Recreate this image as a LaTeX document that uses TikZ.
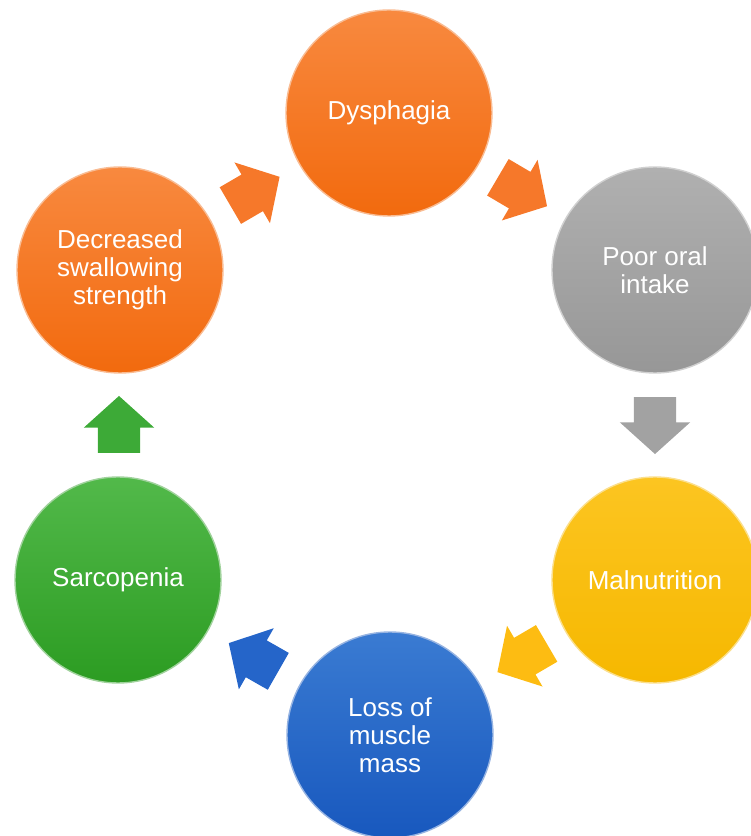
\documentclass[tikz,border=0pt]{standalone}
\usepackage{fontspec}
\setmainfont{Liberation Sans}
\usepackage{tikz}
\usetikzlibrary{shapes.arrows,calc}

\definecolor{orangeTop}{HTML}{F8893F}
\definecolor{orangeBot}{HTML}{F26A0E}
\definecolor{grayTop}{HTML}{B0B0B0}
\definecolor{grayBot}{HTML}{979797}
\definecolor{yellowTop}{HTML}{FCC521}
\definecolor{yellowBot}{HTML}{F6B800}
\definecolor{blueTop}{HTML}{3A7BD2}
\definecolor{blueBot}{HTML}{1858BE}
\definecolor{greenTop}{HTML}{52B94A}
\definecolor{greenBot}{HTML}{2C9C22}

\definecolor{orangeArr}{HTML}{F6782A}
\definecolor{grayArr}{HTML}{A2A2A2}
\definecolor{yellowArr}{HTML}{FDBC12}
\definecolor{blueArr}{HTML}{2565C9}
\definecolor{greenArr}{HTML}{3DAA37}

\begin{document}
\begin{tikzpicture}[x=1pt, y=1pt,
    phase/.style={circle, minimum size=206pt, inner sep=0pt, align=center, text=white,
        font=\fontsize{26}{28}\selectfont, draw=white!55!#1Bot, line width=1.4pt,
        top color=#1Top, bottom color=#1Bot},
    flow/.style={single arrow, fill=#1Arr, minimum height=57pt, inner xsep=0pt,
        inner ysep=21pt, single arrow head extend=14pt, single arrow tip angle=96}]
    \useasboundingbox (0,0) rectangle (751,836);
    \node[phase=orange] (dys) at (389,723) {Dysphagia};
    \node[phase=gray] (poor) at (655,566) {Poor oral\\intake};
    \node[phase=yellow] (mal) at (655,256) {Malnutrition};
    \node[phase=blue] (loss) at (390,101) {Loss of\\muscle\\mass};
    \node[phase=green] (sarc) at (118,256) {Sarcopenia};
    \node[phase=orange] (dec) at (120,566) {Decreased\\swallowing\\strength};
    % block arrows between the circles
    \node[flow=orange, rotate=30.3, xshift=-9pt] (a1) at ($(dec)!0.5!(dys)$) {};
    \node[flow=orange, rotate=-30.5, xshift=-9pt] (a2) at ($(dys)!0.5!(poor)$) {};
    \node[flow=gray, rotate=-90, xshift=-9pt] (a3) at ($(poor)!0.5!(mal)$) {};
    \node[flow=yellow, rotate=210.3, xshift=-9pt] (a4) at ($(mal)!0.5!(loss)$) {};
    \node[flow=blue, rotate=150.3, xshift=-9pt] (a5) at ($(loss)!0.5!(sarc)$) {};
    \node[flow=green, rotate=90, xshift=-9pt] (a6) at ($(sarc)!0.5!(dec)$) {};
\end{tikzpicture}
\end{document}
